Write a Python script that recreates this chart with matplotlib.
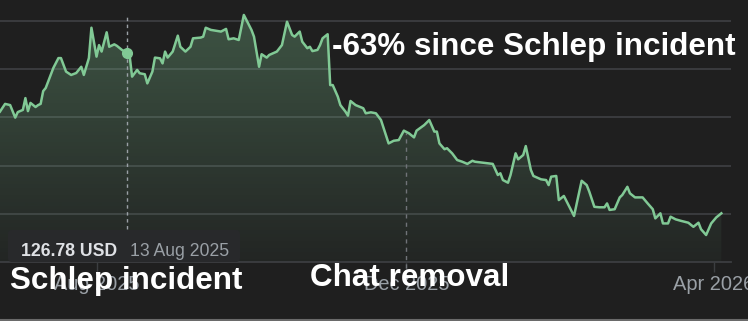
import numpy as np
import matplotlib
matplotlib.use("Agg")
import matplotlib.pyplot as plt
import matplotlib.dates as mdates
from matplotlib.patches import FancyBboxPatch
from matplotlib.lines import Line2D

plt.rcParams['font.family'] = ['Liberation Sans', 'DejaVu Sans']

# data: closing price, days counted from start date
start = np.datetime64("2025-06-24")
days = [0, 2, 4, 6, 7, 9, 10, 11, 12, 14, 15, 16, 17, 18, 21, 23, 24, 26, 28, 30,
        32, 33, 35, 36, 38, 39, 40, 42, 43, 45, 46, 48, 50, 51, 52, 54, 55, 57, 58, 60,
        61, 63, 64, 65, 66, 68, 70, 71, 73, 75, 76, 79, 80, 81, 83, 87, 89, 90, 92, 94,
        96, 98, 99, 100, 102, 103, 105, 106, 109, 111, 113, 115, 116, 118, 119, 121, 122, 123, 125, 126,
        127, 129, 130, 131, 133, 134, 136, 137, 138, 140, 143, 144, 146, 148, 150, 153, 155, 157, 159, 161,
        163, 164, 167, 169, 171, 172, 173, 175, 176, 178, 180, 182, 184, 186, 187, 190, 192, 194, 196, 197,
        198, 200, 201, 203, 204, 206, 207, 209, 210, 213, 215, 216, 217, 219, 220, 222, 224, 226, 229, 231,
        232, 234, 236, 238, 239, 240, 242, 244, 245, 247, 248, 250, 253, 255, 257, 258, 260, 261, 263, 264,
        266, 268, 271, 273, 275, 276, 278, 280, 282, 284]
price = [102.4, 105.6, 105.1, 99.9, 102.2, 103.1, 108.0, 102.6, 106.0, 104.3,
         105.1, 105.6, 110.9, 112.2, 120.5, 124.6, 124.6, 119.0, 117.6, 118.4,
         121.0, 117.6, 124.6, 137.2, 125.2, 130.0, 127.3, 135.3, 129.3, 130.3,
         129.7, 128.0, 126.78, 125.9, 116.9, 119.7, 118.3, 117.9, 114.1, 119.0,
         124.8, 124.5, 122.4, 127.3, 124.8, 127.3, 133.9, 129.3, 127.3, 129.3,
         132.8, 133.1, 133.5, 137.2, 136.3, 135.6, 136.7, 132.4, 132.8, 132.1,
         142.5, 138.3, 136.3, 133.5, 121.0, 126.2, 124.8, 125.9, 127.3, 130.0,
         139.7, 134.2, 133.5, 135.6, 131.4, 128.7, 129.3, 127.5, 128.0, 130.0,
         132.8, 134.5, 113.4, 113.4, 108.6, 105.1, 102.4, 100.7, 106.8, 105.1,
         103.8, 101.7, 102.1, 101.7, 98.9, 89.2, 90.3, 90.6, 94.5, 93.4,
         91.7, 94.5, 96.8, 98.9, 94.1, 94.1, 89.2, 86.8, 87.2, 85.1,
         82.3, 81.6, 80.7, 82.0, 81.6, 81.2, 80.9, 80.7, 76.1, 76.8,
         74.0, 72.9, 76.1, 85.1, 82.6, 84.4, 88.1, 78.2, 75.7, 74.3,
         74.0, 71.9, 75.4, 75.7, 65.7, 67.4, 63.2, 59.1, 73.7, 71.9,
         69.2, 62.9, 62.7, 62.7, 64.3, 61.6, 61.9, 66.8, 67.8, 71.2,
         68.5, 66.8, 66.8, 64.3, 61.9, 58.1, 60.2, 56.0, 56.0, 58.8,
         57.7, 57.1, 56.3, 54.6, 56.3, 53.6, 51.2, 56.0, 58.5, 60.2]

incident_date = "2025-08-13"
incident_price = 126.78
chat_date = "2025-12-01"
tick_dates = ["2025-08-01", "2025-12-01", "2026-04-01"]
tick_labels = ["Aug 2025", "Dec 2025", "Apr 2026"]
grid_levels = [60, 80, 100, 120, 140]

BG = "#1f1f1f"
GREEN = "#81c995"
GRID = "#3c3e41"
MUTED = "#9aa0a6"

fig = plt.figure(figsize=(7.48, 3.21), dpi=100, facecolor=BG)
ax = fig.add_axes([0, 1 - 262 / 321, 731 / 748, 262 / 321])
ax.set_facecolor(BG)

x = mdates.date2num(start + np.array(days).astype("timedelta64[D]"))
x0 = mdates.date2num(start)
xlim = (x0, x0 + 287.8)
ylim = (40, 148.7)

for g in grid_levels:
    ax.axhline(g, color=GRID, lw=1.3, zorder=1)

# gradient under the line
poly = ax.fill_between(x, price, ylim[0], color="none", lw=0)
grad = np.zeros((256, 1, 4))
grad[:, 0, :3] = matplotlib.colors.to_rgb(GREEN)
grad[:, 0, 3] = np.linspace(0.04, 0.33, 256)
img = ax.imshow(grad, extent=[xlim[0], xlim[1], ylim[0], ylim[1]],
                aspect="auto", origin="lower", zorder=2)
img.set_clip_path(poly.get_paths()[0], transform=ax.transData)

ax.plot(x, price, color=GREEN, lw=1.8, zorder=4)

xi = mdates.date2num(np.datetime64(incident_date))
xc = mdates.date2num(np.datetime64(chat_date))
ax.plot([xi, xi], [53.7, 141.6], color=MUTED, lw=1, dashes=(2.5, 2.5), zorder=3)
ax.plot([xc, xc], [37.5, 93.5], color="#707378", lw=1, dashes=(3, 3),
        clip_on=False, zorder=3)
ax.plot(xi, incident_price, "o", ms=7, color=GREEN, zorder=5)

ax.set_xlim(*xlim)
ax.set_ylim(*ylim)
ax.set_yticks([])
ax.set_xticks(mdates.date2num(np.array(tick_dates, dtype="datetime64[D]")))
ax.set_xticklabels(tick_labels)
ax.tick_params(axis="x", length=7, width=1, color=GRID, labelcolor=MUTED,
               labelsize=14.4, pad=2)
for s in ["top", "left", "right"]:
    ax.spines[s].set_visible(False)
ax.spines["bottom"].set_color(GRID)
ax.spines["bottom"].set_linewidth(1.3)

tr = fig.dpi_scale_trans


def px(a, b):
    return a / 100, (321 - b) / 100


# tooltip box
bx, by = px(8, 262)
fig.add_artist(FancyBboxPatch((bx, by), 2.32, 0.32, boxstyle="round,pad=0,rounding_size=0.04",
                              transform=tr, facecolor="#28292b", edgecolor="none"))
fig.text(*px(21, 256), "126.78 USD", transform=tr, fontsize=12.7, fontweight="bold",
         color="#dfe1e5", va="baseline")
fig.text(*px(130, 256), "13 Aug 2025", transform=tr, fontsize=12.7,
         color=MUTED, va="baseline")

fig.text(*px(332, 55), "-63% since Schlep incident", transform=tr, fontsize=22.6,
         fontweight="bold", color="white", va="baseline")
fig.text(*px(10, 289), "Schlep incident", transform=tr, fontsize=22.6,
         fontweight="bold", color="white", va="baseline")
fig.text(*px(310, 286.5), "Chat removal", transform=tr, fontsize=22.6,
         fontweight="bold", color="white", va="baseline")

fig.add_artist(Line2D([0, 7.48], [0.01, 0.01], transform=tr, color="#6a6a6a", lw=1.5))

fig.savefig("out.png", dpi=100, facecolor=BG)
